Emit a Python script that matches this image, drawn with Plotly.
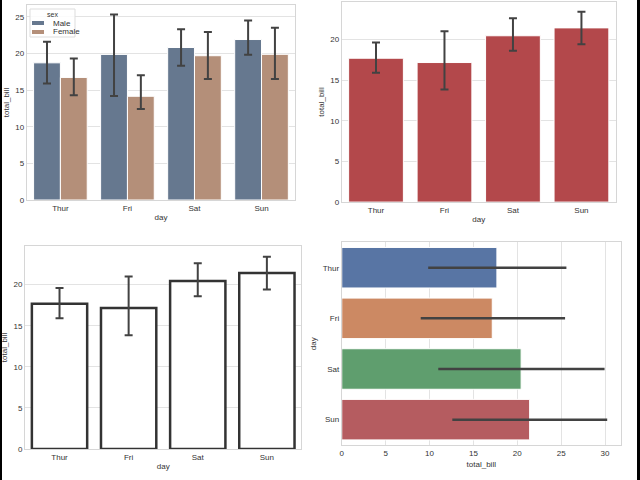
import plotly.graph_objects as go

days = ["Thur", "Fri", "Sat", "Sun"]
sexes = ["Male", "Female"]

# Panel 1: grouped by sex (mean, lower CI, upper CI)
male_mean = [18.71, 19.86, 20.80, 21.89]
male_lo = [15.9, 14.2, 18.3, 19.8]
male_hi = [21.6, 25.3, 23.3, 24.5]
female_mean = [16.72, 14.15, 19.68, 19.87]
female_lo = [14.3, 12.4, 16.5, 16.5]
female_hi = [19.3, 17.0, 22.9, 23.5]

# Panel 2 & 3: overall mean with CI
all_mean = [17.68, 17.15, 20.44, 21.41]
all_lo = [15.9, 13.85, 18.6, 19.4]
all_hi = [19.6, 21.0, 22.6, 23.4]

# Panel 4: mean +/- sd
sd_lo = [9.85, 9.0, 11.0, 12.6]
sd_hi = [25.6, 25.45, 29.95, 30.25]

ERR = "#424242"
FONT = "Liberation Sans, Arial, sans-serif"
SEX_COLORS = ["#66788f", "#b48f79"]

def err(mean, lo, hi):
    return dict(type="data", symmetric=False,
                array=[h - m for m, h in zip(mean, hi)],
                arrayminus=[m - l for m, l in zip(mean, lo)],
                color=ERR, thickness=2, width=4)

fig = go.Figure()

fig.add_trace(go.Bar(x=days, y=male_mean, name=sexes[0], marker=dict(color=SEX_COLORS[0], line=dict(width=1, color="white")),
                     error_y=err(male_mean, male_lo, male_hi), xaxis="x", yaxis="y", showlegend=False))
fig.add_trace(go.Bar(x=days, y=female_mean, name=sexes[1], marker=dict(color=SEX_COLORS[1], line=dict(width=1, color="white")),
                     error_y=err(female_mean, female_lo, female_hi), xaxis="x", yaxis="y", showlegend=False))

fig.add_trace(go.Bar(x=days, y=all_mean, marker=dict(color="#b3484b", line=dict(width=1, color="white")),
                     error_y=err(all_mean, all_lo, all_hi), xaxis="x2", yaxis="y2", showlegend=False, width=0.8))

fig.add_trace(go.Bar(x=days, y=all_mean, marker=dict(color="white", line=dict(width=2.5, color="#333333")),
                     error_y=err(all_mean, all_lo, all_hi), xaxis="x3", yaxis="y3", showlegend=False, width=0.8))

pal = ["#5875a4", "#cc8963", "#5f9e6e", "#b55c60"]
fig.add_trace(go.Bar(y=days, x=all_mean, orientation="h", marker=dict(color=pal, line=dict(width=1, color="white")),
                     error_x=dict(type="data", symmetric=False,
                                  array=[h - m for m, h in zip(all_mean, sd_hi)],
                                  arrayminus=[m - l for m, l in zip(all_mean, sd_lo)],
                                  color=ERR, thickness=2.5, width=0),
                     xaxis="x4", yaxis="y4", showlegend=False, width=0.8))

tickf = dict(family=FONT, size=8, color="#333333")
titf = dict(family=FONT, size=8, color="#333333")
GRID = "#e3e3e3"
LINE = "#d6d6d6"

def cat_axis(domain, anchor, title="day"):
    return dict(domain=domain, anchor=anchor, type="category", range=[-0.5, 3.5],
                showgrid=False, showline=True, mirror=True, linecolor=LINE, linewidth=1,
                ticks="", tickfont=tickf, title=dict(text=title, font=titf, standoff=2),
                automargin=False, zeroline=False, fixedrange=True)

def val_axis(domain, anchor, rng, dtick, title="total_bill"):
    return dict(domain=domain, anchor=anchor, range=rng, dtick=dtick,
                showgrid=True, gridcolor=GRID, gridwidth=1, showline=True, mirror=True,
                linecolor=LINE, linewidth=1, ticks="", tickfont=tickf,
                title=dict(text=title, font=titf, standoff=4), automargin=False, zeroline=False)

def px(x):
    return x / 640

def py(y):
    return 1 - y / 480

# manual compact legend (seaborn style)
shapes = [
    dict(type="rect", xref="paper", yref="paper", x0=px(30), x1=px(75), y0=py(37), y1=py(9),
         fillcolor="rgba(255,255,255,0.85)", line=dict(width=1, color="#dddddd"), layer="above"),
]
annotations = [
    dict(text="sex", x=px(52), y=py(14), xref="paper", yref="paper", showarrow=False,
         font=dict(family=FONT, size=7, color="#333333"), xanchor="center", yanchor="middle"),
]
for i, (name, col) in enumerate(zip(sexes, SEX_COLORS)):
    yc = 23 + i * 9
    shapes.append(dict(type="rect", xref="paper", yref="paper", x0=px(32), x1=px(44),
                       y0=py(yc + 2), y1=py(yc - 2), fillcolor=col, line=dict(width=0), layer="above"))
    annotations.append(dict(text=name, x=px(51), y=py(yc), xref="paper", yref="paper", showarrow=False,
                            font=dict(family=FONT, size=8, color="#333333"), xanchor="left", yanchor="middle"))

shapes += [
    dict(type="rect", xref="paper", yref="paper", x0=0, x1=px(2), y0=0, y1=1,
         fillcolor="black", line=dict(width=0), layer="above"),
    dict(type="rect", xref="paper", yref="paper", x0=px(637), x1=1, y0=0, y1=1,
         fillcolor="black", line=dict(width=0), layer="above"),
]

fig.update_layout(
    width=640, height=480,
    margin=dict(l=0, r=0, t=0, b=0),
    paper_bgcolor="white", plot_bgcolor="white",
    barmode="group", bargap=0.2, bargroupgap=0,
    showlegend=False,
    font=dict(family=FONT, size=8, color="#333333"),
    xaxis=cat_axis([0.042, 0.461], "y"),
    yaxis=val_axis([0.5833, 0.9896], "x", [0, 26.6], 5),
    xaxis2=cat_axis([0.534, 0.962], "y2"),
    yaxis2=val_axis([0.579, 0.996], "x2", [0, 24.6], 5),
    xaxis3=cat_axis([0.039, 0.471], "y3"),
    yaxis3=val_axis([0.0646, 0.4875], "x3", [0, 24.7], 5),
    xaxis4=val_axis([0.534, 0.970], "y4", [0, 31.8], 5, title="total_bill"),
    yaxis4=dict(domain=[0.073, 0.495], anchor="x4", type="category", range=[3.5, -0.5],
                showgrid=False, showline=True, mirror=True, linecolor=LINE, linewidth=1,
                ticks="", tickfont=tickf, title=dict(text="day", font=titf, standoff=4),
                automargin=False, zeroline=False),
    shapes=shapes,
    annotations=annotations,
)

fig.write_html("out.html", config={"displayModeBar": False},
               post_script="document.body.style.margin='0';document.body.style.overflow='hidden';")
